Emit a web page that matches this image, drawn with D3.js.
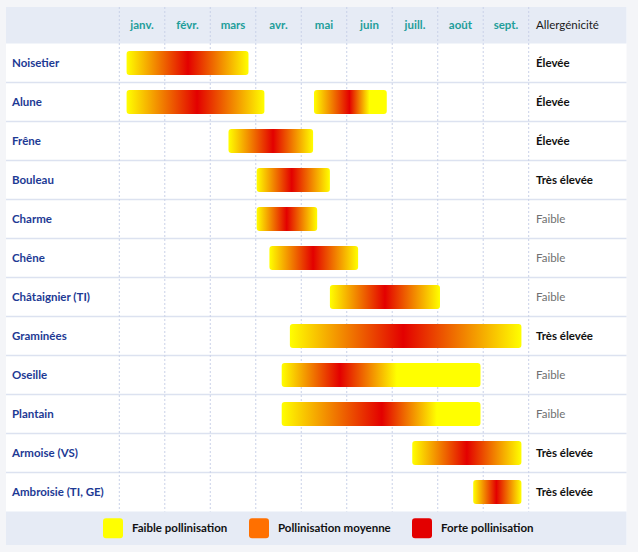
<!DOCTYPE html>
<html><head><meta charset="utf-8">
<script src="https://cdn.jsdelivr.net/npm/d3@7/dist/d3.min.js"></script>
<style>
html,body{margin:0;padding:0;background:#f4f5f8;}
svg{display:block;font-family:Lato,"Noto Sans",sans-serif;}
</style></head><body>
<svg id="chart" width="638" height="552"></svg>
<script>
const months = ["janv.","févr.","mars","avr.","mai","juin","juill.","août","sept."];
const species = ["Noisetier","Alune","Frêne","Bouleau","Charme","Chêne","Châtaignier (TI)","Graminées","Oseille","Plantain","Armoise (VS)","Ambroisie (TI, GE)"];
const allergenicity = ["Élevée","Élevée","Élevée","Très élevée","Faible","Faible","Faible","Très élevée","Faible","Faible","Très élevée","Très élevée"];
// Bars: species, then gradient stops [month position (0 = 1 janv.), intensity 0 = faible, 1 = forte]
const barSpecies = ["Noisetier","Alune","Alune","Frêne","Bouleau","Charme","Chêne","Châtaignier (TI)","Graminées","Oseille","Plantain","Armoise (VS)","Ambroisie (TI, GE)"];
const barStops = [
  [[0.16,0],[1.51,1],[2.84,0]],
  [[0.16,0],[1.71,1],[3.19,0]],
  [[4.28,0],[5.06,1],[5.50,0],[5.88,0]],
  [[2.40,0],[3.38,1],[4.26,0]],
  [[3.02,0],[3.79,1],[4.63,0]],
  [[3.02,0],[3.68,1],[4.35,0]],
  [[3.30,0],[4.26,1],[5.25,0]],
  [[4.63,0],[5.84,1],[7.05,0]],
  [[3.75,0],[6.24,1],[8.84,0]],
  [[3.57,0],[4.85,1],[6.10,0],[7.94,0]],
  [[3.57,0],[5.77,1],[6.98,0],[7.94,0]],
  [[6.44,0],[7.64,1],[8.84,0]],
  [[7.78,0],[8.29,1],[8.84,0]]
];
const legendLabels = ["Faible pollinisation","Pollinisation moyenne","Forte pollinisation"];
const legendColors = ["#ffff00","#ff7000","#e30000"];

const svg = d3.select("#chart");
const L = 6, R = 626.5, T = 7, HB = 43.5, RB = 511.5, B = 545;
const FS = 11.5;

const x = d3.scaleLinear().domain([0, months.length]).range([119.3, 528.7]);
const y = d3.scaleBand().domain(species).range([HB, RB]);
const color = d3.scaleLinear().domain([0,1]).range(["#ffff00","#e30000"]).interpolate(d3.interpolateRgb);

svg.append("rect").attr("x",L).attr("y",T).attr("width",R-L).attr("height",B-T).attr("fill","#ffffff");
svg.append("rect").attr("x",L).attr("y",T).attr("width",R-L).attr("height",HB-T).attr("fill","#e6ebf5");
svg.append("rect").attr("x",L).attr("y",RB).attr("width",R-L).attr("height",B-RB).attr("fill","#e6ebf5");

svg.append("g").selectAll("line").data(species.slice(1)).join("line")
  .attr("x1",L).attr("x2",R)
  .attr("y1",d=>y(d)).attr("y2",d=>y(d))
  .attr("stroke","#dce2f0").attr("stroke-width",1.5);

const ticks = d3.range(0, months.length+1);
svg.append("g").selectAll("line").data(ticks).join("line")
  .attr("x1",d=>x(d)).attr("x2",d=>x(d))
  .attr("y1",T).attr("y2",RB)
  .attr("stroke","#c9d1e8").attr("stroke-width",1).attr("stroke-dasharray","2,2");

const xAxis = d3.axisTop(d3.scaleBand().domain(months).range([x(0), x(months.length)])).tickSize(0);
const ax = svg.append("g").attr("transform",`translate(0,${(T+HB)/2+4})`).call(xAxis);
ax.select(".domain").remove();
ax.selectAll("text").attr("dy",0).attr("y",0).attr("fill","#1f9e9a").attr("font-size",FS).attr("font-weight",700)
  .attr("font-family","Lato,'Noto Sans',sans-serif");

svg.append("text").attr("x",536).attr("y",(T+HB)/2+4).text("Allergénicité")
  .attr("font-size",FS).attr("fill","#1a1a1a").attr("font-weight",400);

svg.append("g").selectAll("text").data(species).join("text")
  .attr("x",12).attr("y",d=>y(d)+y.bandwidth()/2+4)
  .attr("font-size",FS).attr("font-weight",700).attr("fill","#1d3a94").text(d=>d);

svg.append("g").selectAll("text").data(species).join("text")
  .attr("x",536).attr("y",d=>y(d)+y.bandwidth()/2+4)
  .attr("font-size",FS)
  .attr("font-weight",(d,i)=>allergenicity[i]==="Très élevée"?700:(allergenicity[i]==="Faible"?400:700))
  .attr("fill",(d,i)=>allergenicity[i]==="Faible"?"#707070":"#111111")
  .text((d,i)=>allergenicity[i]);

const defs = svg.append("defs");
barStops.forEach((stops,i)=>{
  const s = stops[0][0], e = stops[stops.length-1][0];
  const g = defs.append("linearGradient").attr("id","g"+i).attr("x1","0").attr("x2","1").attr("y1","0").attr("y2","0");
  stops.forEach(st=>{
    g.append("stop").attr("offset",(st[0]-s)/(e-s)).attr("stop-color",color(st[1]));
  });
});

const barH = 24;
svg.append("g").selectAll("rect").data(barStops).join("rect")
  .attr("x",d=>x(d[0][0]))
  .attr("width",d=>x(d[d.length-1][0])-x(d[0][0]))
  .attr("y",(d,i)=>y(barSpecies[i])+(y.bandwidth()-barH)/2)
  .attr("height",barH).attr("rx",3)
  .attr("fill",(d,i)=>`url(#g${i})`);

const legendX = [103,249,412];
const lg = svg.append("g").selectAll("g").data(legendLabels).join("g")
  .attr("transform",(d,i)=>`translate(${legendX[i]},${(RB+B)/2})`);
lg.append("rect").attr("x",0).attr("y",-10).attr("width",20).attr("height",20).attr("rx",3)
  .attr("fill",(d,i)=>legendColors[i]);
lg.append("text").attr("x",29).attr("y",4).attr("font-size",FS).attr("font-weight",700).attr("fill","#111").text(d=>d);
</script>
</body></html>
